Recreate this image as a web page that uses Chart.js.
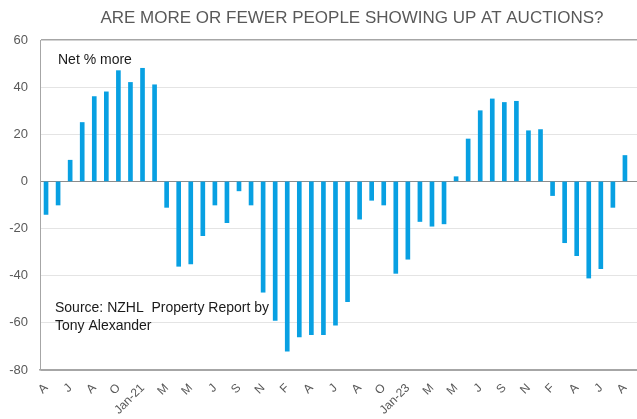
<!DOCTYPE html>
<html>
<head>
<meta charset="utf-8">
<script src="https://cdn.jsdelivr.net/npm/chart.js@4"></script>
<style>
html,body{margin:0;padding:0;background:#fff;}
#wrap{width:637px;height:419px;position:relative;}
</style>
</head>
<body>
<div id="wrap"><canvas id="c" width="637" height="419"></canvas></div>
<script>
const titleText = 'ARE MORE OR FEWER PEOPLE SHOWING UP AT AUCTIONS?';
const seriesLabel = 'Net % more';
const sourceLines = ['Source: NZHL  Property Report by', 'Tony Alexander'];

const months = ['Apr-20','May-20','Jun-20','Jul-20','Aug-20','Sep-20','Oct-20','Nov-20',
  'Jan-21','Feb-21','Mar-21','Apr-21','May-21','Jun-21','Jul-21','Aug-21','Sep-21','Oct-21','Nov-21','Dec-21',
  'Feb-22','Mar-22','Apr-22','May-22','Jun-22','Jul-22','Aug-22','Sep-22','Oct-22','Nov-22',
  'Jan-23','Feb-23','Mar-23','Apr-23','May-23','Jun-23','Jul-23','Aug-23','Sep-23','Oct-23','Nov-23','Dec-23',
  'Feb-24','Mar-24','Apr-24','May-24','Jun-24','Jul-24','Aug-24'];

const netMore = [-14,-10,9,25,36,38,47,42,
  48,41,-11,-36,-35,-23,-10,-17.5,-4,-10,-47,-59,
  -72,-66,-65,-65,-61,-51,-16,-8,-10,-39,
  -33,-17,-19,-18,2,18,30,35,33.5,34,21.5,22,
  -6,-26,-31.5,-41,-37,-11,11];

const tickLabels = ['A','J','A','O','Jan-21','M','M','J','S','N','F','A','J','A','O','Jan-23','M','M','J','S','N','F','A','J','A'];
const yTicks = [60,40,20,0,-20,-40,-60,-80];

const FONT = "'Liberation Sans', Arial, sans-serif";

const textPlugin = {
  id: 'texts',
  afterDraw(chart) {
    const ctx = chart.ctx;
    ctx.save();
    ctx.textBaseline = 'alphabetic';
    ctx.fillStyle = '#595959';
    ctx.font = '17px ' + FONT;
    ctx.textAlign = 'center';
    ctx.fillText(titleText, 352, 23);
    ctx.textAlign = 'left';
    ctx.fillStyle = '#1a1a1a';
    ctx.font = '14px ' + FONT;
    ctx.fillText(seriesLabel, 58, 64);
    ctx.fillText(sourceLines[0], 55, 312);
    ctx.fillText(sourceLines[1], 55, 330);
    ctx.restore();
  }
};

const dataPts = netMore.map((v, i) => ({x: i, y: v}));

new Chart(document.getElementById('c'), {
  type: 'bar',
  data: {
    datasets: [{
      label: seriesLabel,
      data: dataPts,
      backgroundColor: '#08A0E2',
      borderWidth: 0,
      barThickness: 4
    }]
  },
  options: {
    responsive: false,
    animation: false,
    events: [],
    layout: {padding: {top: 40, right: 0, bottom: 0, left: 0}},
    plugins: {legend: {display: false}, title: {display: false}, tooltip: {enabled: false}},
    scales: {
      x: {
        type: 'linear',
        min: -0.5,
        max: 49,
        offset: false,
        afterBuildTicks: s => { s.ticks = tickLabels.map((t, k) => ({value: k * 2})); },
        afterFit: s => { s.height = 49; s.paddingLeft = 0; s.paddingRight = 0; },
        grid: {display: false, drawTicks: false},
        border: {display: true, color: '#a6a6a6', width: 1.5},
        ticks: {
          autoSkip: false,
          minRotation: 45,
          maxRotation: 45,
          padding: 11,
          color: '#595959',
          font: {family: FONT, size: 12},
          callback: (v) => tickLabels[Math.round(v / 2)]
        }
      },
      y: {
        min: -80,
        max: 60,
        afterBuildTicks: s => { s.ticks = yTicks.map(v => ({value: v})); },
        afterFit: s => { s.width = 40; s.paddingTop = 0; s.paddingBottom = 0; },
        grid: {
          drawTicks: false,
          color: c => (c.tick.value === 0 ? '#8c8c8c' : (c.tick.value === 60 || c.tick.value === -80) ? '#a6a6a6' : '#e4e4e4'),
          lineWidth: c => (c.tick.value === 60 ? 1.5 : 1)
        },
        border: {display: true, color: '#a6a6a6', width: 1},
        ticks: {
          padding: 12,
          color: '#595959',
          font: {family: FONT, size: 13}
        }
      }
    }
  },
  plugins: [textPlugin]
});
</script>
</body>
</html>
